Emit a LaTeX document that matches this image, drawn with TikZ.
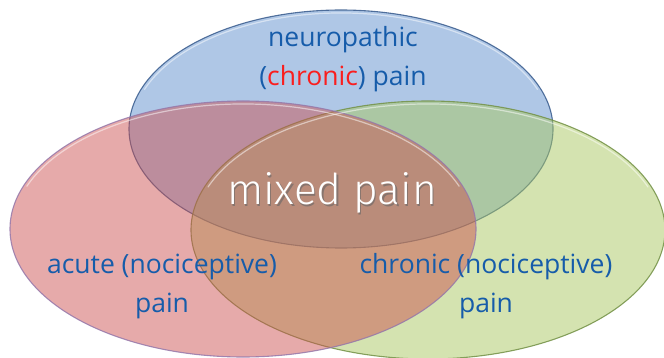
\documentclass[tikz,border=0pt]{standalone}
\usepackage{fontspec}
\setmainfont{Open Sans}
\newfontfamily\mixedfont{Fira Sans Light}
\usetikzlibrary{shapes.geometric}
\definecolor{bluefill}{RGB}{95,143,205}
\definecolor{redfill}{RGB}{203,78,78}
\definecolor{greenfill}{RGB}{169,199,97}
\definecolor{blueedge}{RGB}{55,90,140}
\definecolor{rededge}{RGB}{150,120,170}
\definecolor{greenedge}{RGB}{115,145,70}
\definecolor{labelblue}{RGB}{22,92,170}
\definecolor{chronred}{RGB}{250,30,30}
\tikzset{
  venn/.style={ellipse, draw, line width=1.1pt, inner sep=0pt, outer sep=0pt},
  shine/.style={white, opacity=0.5, line width=1.2pt, line cap=round},
  lbl/.style={text=labelblue, align=center, anchor=base, inner sep=0pt,
    font=\fontsize{26.5}{39}\selectfont},
  mixedlbl/.style={text=white, anchor=base, inner sep=0pt,
    font=\mixedfont\fontsize{42.5}{44}\selectfont},
}
\begin{document}
\begin{tikzpicture}[x=1pt,y=-1pt]
\useasboundingbox (0,0) rectangle (664,358);
\node[venn, minimum width=424pt, minimum height=238pt, fill=bluefill, fill opacity=0.5, draw=blueedge, draw opacity=0.85] (neuro) at (341,129) {};
\node[venn, minimum width=474pt, minimum height=258pt, fill=greenfill, fill opacity=0.5, draw=greenedge, draw opacity=0.85] (chron) at (428,230) {};
\node[venn, minimum width=466pt, minimum height=256pt, fill=redfill, fill opacity=0.48, draw=rededge, draw opacity=0.85] (acute) at (243,229) {};
% subtle inner highlights along the upper rims
\draw[shine] ([shift={(200:209 and 116)}]neuro.center) arc[start angle=200, end angle=340, x radius=209, y radius=116];
\draw[shine] ([shift={(200:234 and 126)}]chron.center) arc[start angle=200, end angle=340, x radius=234, y radius=126];
\draw[shine] ([shift={(200:230 and 125)}]acute.center) arc[start angle=200, end angle=340, x radius=230, y radius=125];
\node[lbl] (tneuro) at (343,86) {neuropathic\\(\textcolor{chronred}{chronic}) pain};
\node[lbl] (tacute) at (162,312) {acute (nociceptive)\\pain};
\node[lbl] (tchron) at (486,312) {chronic (nociceptive)\\pain};
\node[mixedlbl, text=black!60, opacity=0.6] (tmixshadow) at (333.2,206.2) {mixed pain};
\node[mixedlbl] (tmix) at (332,205) {mixed pain};
\end{tikzpicture}
\end{document}
